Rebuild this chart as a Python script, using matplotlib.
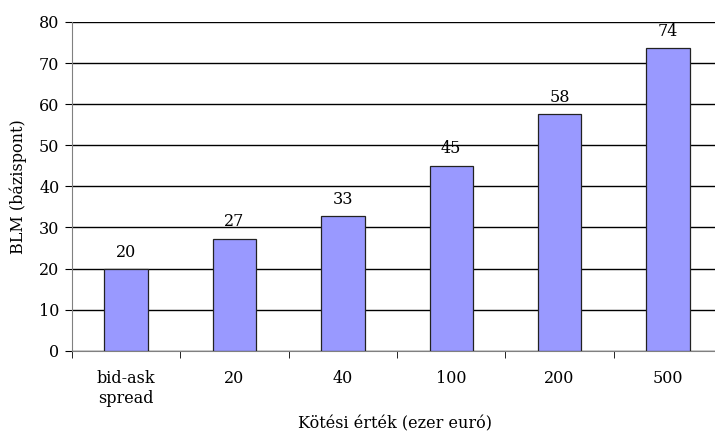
import numpy as np
import matplotlib.pyplot as plt

categories = ['bid-ask\nspread', '20', '40', '100', '200', '500']
values = [19.8, 27.3, 32.8, 45.0, 57.6, 73.6]
labels = ['20', '27', '33', '45', '58', '74']

plt.rcParams['font.family'] = ['DejaVu Serif']
plt.rcParams['font.size'] = 11.5

fig = plt.figure(figsize=(7.15, 4.38), dpi=100)
ax = fig.add_axes([72 / 715, 1 - 350.7 / 438, 650 / 715, (350.7 - 22) / 438])

x = np.arange(len(categories))
bars = ax.bar(x, values, width=0.4, color='#9999FF', edgecolor='#222222', linewidth=0.9, zorder=3)
for b, lab in zip(bars, labels):
    ax.annotate(lab, (b.get_x() + b.get_width() / 2, b.get_height()),
                xytext=(0, 6), textcoords='offset points', ha='center', va='bottom', zorder=4)

ax.set_xlim(-0.5, len(categories) - 0.5)
ax.set_ylim(0, 80)
ax.set_yticks(np.arange(0, 81, 10))
ax.yaxis.grid(True, color='black', linewidth=1, zorder=0)
ax.set_axisbelow(True)

ax.set_xticks(x)
ax.set_xticklabels(categories)
ax.set_xticks(np.arange(-0.5, len(categories), 1), minor=True)
ax.tick_params(axis='x', which='major', length=0, pad=14)
ax.tick_params(axis='x', which='minor', length=5, color='black', direction='out')
ax.tick_params(axis='y', length=5, color='black', direction='out', pad=4)

for s in ['top', 'right']:
    ax.spines[s].set_visible(False)
ax.spines['left'].set_color('#808080')
ax.spines['bottom'].set_color('#808080')

ax.set_ylabel('BLM (bázispont)')
ax.yaxis.set_label_coords(-(72 - 27) / 650, 0.5)
ax.set_xlabel('Kötési érték (ezer euró)')
ax.xaxis.set_label_coords((395 - 72) / 650, -(415 - 350.7) / (350.7 - 22))

fig.savefig('out.png', dpi=100)
